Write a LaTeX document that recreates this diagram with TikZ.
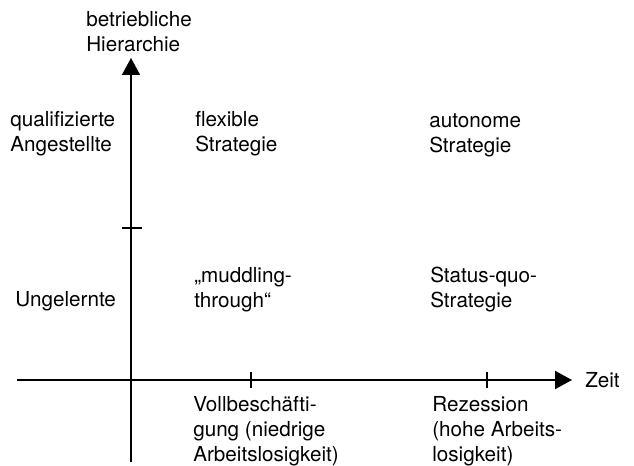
\documentclass[tikz,border=0pt]{standalone}
\usepackage{fontspec}
\setmainfont{TeX Gyre Heros}
\usetikzlibrary{arrows.meta}

\tikzset{
  lbl/.style={anchor=base west, inner sep=0pt, align=left, font=\fontsize{15.5}{18.75}\selectfont},
  axis/.style={line width=1.3pt, -{Triangle[length=12.75pt,width=13.5pt]}},
  tick/.style={line width=1.3pt}
}

\begin{document}
\begin{tikzpicture}[x=0.75pt,y=0.75pt,yscale=-1,xscale=1]
\useasboundingbox (0,0) rectangle (634,466);

%Axes
\coordinate (ybot) at (131,462);
\coordinate (ytop) at (131,58);
\coordinate (xleft) at (17,380);
\coordinate (xright) at (572,380);
\draw [axis] (ybot) -- (ytop);
\draw [axis] (xleft) -- (xright);

%Ticks
\coordinate (t1a) at (122,228);
\coordinate (t1b) at (142,228);
\coordinate (t2a) at (251,372);
\coordinate (t2b) at (251,388);
\coordinate (t3a) at (487,372);
\coordinate (t3b) at (487,388);
\draw [tick] (t1a) -- (t1b);
\draw [tick] (t2a) -- (t2b);
\draw [tick] (t3a) -- (t3b);

% Text Nodes (anchored at the baseline of the last line)
\draw (86,52) node [lbl] (hier) {betriebliche\\Hierarchie};
\draw (10,152) node [lbl] (qual) {qualifizierte\\Angestellte};
\draw (15,306) node [lbl] (ungel) {Ungelernte};
\draw (195,152) node [lbl] (flex) {flexible\\Strategie};
\draw (429,153) node [lbl] (auto) {autonome\\Strategie};
\draw (194,307) node [lbl] (mudd) {„muddling-\\through“};
\draw (430,307) node [lbl] (stq) {Status-quo-\\Strategie};
\draw (193,461) node [lbl] (voll) {Vollbeschäfti-\\gung (niedrige\\Arbeitslosigkeit)};
\draw (432,461) node [lbl] (rez) {Rezession\\(hohe Arbeits-\\losigkeit)};
\draw (585,387) node [lbl] (zeit) {Zeit};

\end{tikzpicture}
\end{document}
